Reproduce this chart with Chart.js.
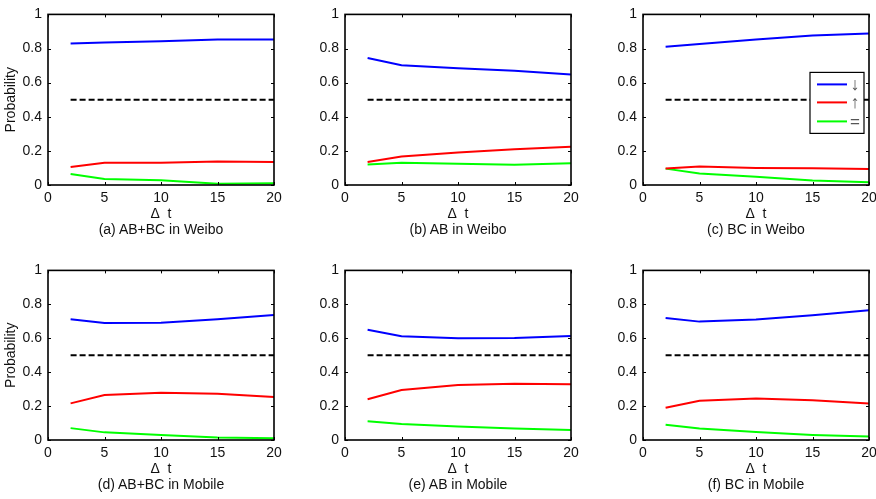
<!DOCTYPE html>
<html>
<head>
<meta charset="utf-8">
<script src="https://cdn.jsdelivr.net/npm/chart.js@4/dist/chart.umd.min.js"></script>
<style>
  body { margin: 0; width: 876px; height: 499px; overflow: hidden; background: #fff; position: relative; }
  .panel { position: absolute; }
  .cap { position: absolute; width: 226px; text-align: center; font: 14px "Liberation Sans", Arial, sans-serif; color: #111; }
</style>
</head>
<body>
<script>
// x values (Δt)
const deltaT = [2, 5, 10, 15, 20];
const baseline = [0.5, 0.5, 0.5, 0.5, 0.5];

// (a) AB+BC in Weibo
const weiboAllDown = [0.830, 0.836, 0.843, 0.853, 0.853];
const weiboAllUp   = [0.105, 0.130, 0.130, 0.138, 0.135];
const weiboAllEq   = [0.065, 0.035, 0.028, 0.008, 0.010];
// (b) AB in Weibo
const weiboABDown = [0.745, 0.702, 0.684, 0.670, 0.648];
const weiboABUp   = [0.135, 0.167, 0.190, 0.210, 0.224];
const weiboABEq   = [0.120, 0.130, 0.125, 0.118, 0.127];
// (c) BC in Weibo
const weiboBCDown = [0.810, 0.826, 0.853, 0.876, 0.888];
const weiboBCUp   = [0.097, 0.108, 0.100, 0.098, 0.094];
const weiboBCEq   = [0.096, 0.067, 0.048, 0.026, 0.016];
// (d) AB+BC in Mobile
const mobileAllDown = [0.712, 0.690, 0.692, 0.712, 0.737];
const mobileAllUp   = [0.216, 0.265, 0.278, 0.272, 0.253];
const mobileAllEq   = [0.070, 0.045, 0.030, 0.015, 0.010];
// (e) AB in Mobile
const mobileABDown = [0.650, 0.612, 0.600, 0.602, 0.613];
const mobileABUp   = [0.240, 0.295, 0.325, 0.332, 0.328];
const mobileABEq   = [0.110, 0.095, 0.080, 0.068, 0.059];
// (f) BC in Mobile
const mobileBCDown = [0.720, 0.698, 0.710, 0.735, 0.765];
const mobileBCUp   = [0.190, 0.232, 0.245, 0.235, 0.215];
const mobileBCEq   = [0.090, 0.068, 0.047, 0.030, 0.020];

const captions = ['(a) AB+BC in Weibo', '(b) AB in Weibo', '(c) BC in Weibo',
                  '(d) AB+BC in Mobile', '(e) AB in Mobile', '(f) BC in Mobile'];
const seriesLabels = ['\u2193', '\u2191', '='];
const xTicks = [0, 5, 10, 15, 20];
const yTicks = [0, 0.2, 0.4, 0.6, 0.8, 1];

const panelData = [
  [weiboAllDown, weiboAllUp, weiboAllEq],
  [weiboABDown, weiboABUp, weiboABEq],
  [weiboBCDown, weiboBCUp, weiboBCEq],
  [mobileAllDown, mobileAllUp, mobileAllEq],
  [mobileABDown, mobileABUp, mobileABEq],
  [mobileBCDown, mobileBCUp, mobileBCEq]
];

const FONT = '"Liberation Sans", Arial, sans-serif';
const plotLefts = [48, 345, 643];
const plotTops = [8, 264];
const plotHeights = [177, 176];
const PW = 226, LEFTW = 48, PADR = 16, XH = 38;

// box + inward ticks, MATLAB style
const boxPlugin = {
  id: 'boxTicks',
  afterDatasetsDraw(chart) {
    const { ctx, chartArea: a, scales: { x, y } } = chart;
    ctx.save();
    ctx.strokeStyle = '#000';
    ctx.lineWidth = 1;
    ctx.beginPath();
    xTicks.forEach(v => {
      const px = Math.round(x.getPixelForValue(v)) + 0.5;
      ctx.moveTo(px, a.bottom); ctx.lineTo(px, a.bottom - 3);
      ctx.moveTo(px, a.top); ctx.lineTo(px, a.top + 3);
    });
    yTicks.forEach(v => {
      const py = Math.round(y.getPixelForValue(v)) + 0.5;
      ctx.moveTo(a.left, py); ctx.lineTo(a.left + 3, py);
      ctx.moveTo(a.right, py); ctx.lineTo(a.right - 3, py);
    });
    ctx.stroke();
    ctx.lineWidth = 1.6;
    ctx.strokeRect(a.left, a.top, a.right - a.left, a.bottom - a.top);
    ctx.restore();
  }
};

// legend box drawn inside panel (c)
const legendPlugin = {
  id: 'innerLegend',
  afterDraw(chart, args, opts) {
    if (!opts.show) return;
    const { ctx, chartArea: a } = chart;
    const bx = a.right - 59, by = a.top + 58, bw = 54, bh = 61;
    ctx.save();
    ctx.fillStyle = '#fff';
    ctx.fillRect(bx, by, bw, bh);
    ctx.strokeStyle = '#000';
    ctx.lineWidth = 1.2;
    ctx.strokeRect(bx, by, bw, bh);
    const rows = [12, 30, 49];
    chart.data.datasets.slice(0, 3).forEach((ds, i) => {
      ctx.strokeStyle = ds.borderColor;
      ctx.lineWidth = 2;
      ctx.beginPath();
      ctx.moveTo(bx + 7, by + rows[i]);
      ctx.lineTo(bx + 37, by + rows[i]);
      ctx.stroke();
      ctx.fillStyle = '#555';
      ctx.font = (i < 2 ? '18px ' : '17px ') + FONT;
      ctx.textAlign = 'center';
      ctx.textBaseline = 'middle';
      ctx.fillText(ds.label, bx + 45, by + rows[i] + 1);
    });
    ctx.restore();
  }
};

panelData.forEach((series, idx) => {
  const col = idx % 3, row = Math.floor(idx / 3);
  const left = plotLefts[col] - LEFTW;
  const top = plotTops[row] - 8;
  const w = LEFTW + PW + PADR;
  const h = 8 + plotHeights[row] + XH;

  const div = document.createElement('div');
  div.className = 'panel';
  div.style.left = left + 'px';
  div.style.top = top + 'px';
  div.style.width = w + 'px';
  div.style.height = h + 'px';
  const canvas = document.createElement('canvas');
  div.appendChild(canvas);
  document.body.appendChild(div);

  const cap = document.createElement('div');
  cap.className = 'cap';
  cap.textContent = captions[idx];
  cap.style.left = plotLefts[col] + 'px';
  cap.style.top = (plotTops[row] + plotHeights[row] + 36) + 'px';
  document.body.appendChild(cap);

  const colors = ['#0000ff', '#ff0000', '#00ff00'];
  const datasets = series.map((vals, i) => ({
    label: seriesLabels[i],
    data: deltaT.map((t, k) => ({ x: t, y: vals[k] })),
    borderColor: colors[i],
    borderWidth: 2,
    pointRadius: 0,
    tension: 0,
    fill: false
  }));
  datasets.push({
    label: 'baseline',
    data: deltaT.map((t, k) => ({ x: t, y: baseline[k] })),
    borderColor: '#000',
    borderWidth: 2,
    borderDash: [6, 3],
    pointRadius: 0,
    fill: false
  });

  new Chart(canvas, {
    type: 'line',
    data: { datasets },
    options: {
      responsive: true,
      maintainAspectRatio: false,
      animation: false,
      events: [],
      layout: { autoPadding: false, padding: { top: 8, right: PADR, bottom: 0, left: 0 } },
      scales: {
        x: {
          type: 'linear', min: 0, max: 20,
          afterBuildTicks: s => { s.ticks = xTicks.map(v => ({ value: v })); },
          afterFit: s => { s.height = XH; },
          grid: { display: false, drawTicks: false },
          border: { display: false },
          ticks: { color: '#111', padding: 5, maxRotation: 0, font: { family: FONT, size: 14 } },
          title: { display: true, text: '\u0394  t', color: '#111', padding: { top: 0, bottom: 0 }, font: { family: FONT, size: 14 } }
        },
        y: {
          type: 'linear', min: 0, max: 1,
          afterBuildTicks: s => { s.ticks = yTicks.map(v => ({ value: v })); },
          afterFit: s => { s.width = LEFTW; },
          grid: { display: false, drawTicks: false },
          border: { display: false },
          ticks: { color: '#111', padding: 6, font: { family: FONT, size: 14 }, callback: v => String(+v.toFixed(1)) },
          title: { display: col === 0, text: 'Probability', color: '#111', padding: { top: 3, bottom: 0 }, font: { family: FONT, size: 14 } }
        }
      },
      plugins: {
        legend: { display: false },
        tooltip: { enabled: false },
        innerLegend: { show: idx === 2 }
      }
    },
    plugins: [boxPlugin, legendPlugin]
  });
});
</script>
</body>
</html>
